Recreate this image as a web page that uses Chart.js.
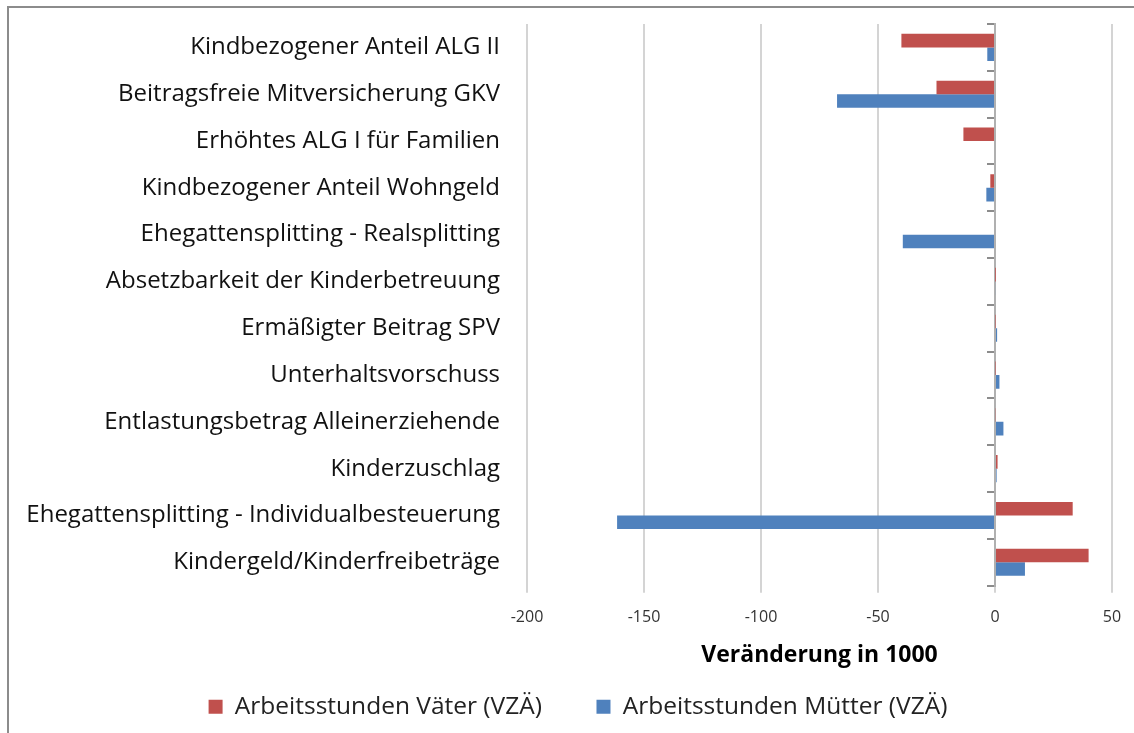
<!DOCTYPE html>
<html>
<head>
<meta charset="utf-8">
<script src="https://cdn.jsdelivr.net/npm/chart.js@4"></script>
<style>
  html, body { margin: 0; padding: 0; background: #fff; }
  #wrap { position: relative; width: 1134px; height: 733px; }
  #frame { position: absolute; left: 7px; top: 6px; right: 0; bottom: 0;
           border-left: 2px solid #8c8c8c; border-top: 2px solid #8c8c8c; }
</style>
</head>
<body>
<div id="wrap">
  <div id="frame"></div>
  <canvas id="myChart" width="1134" height="733"></canvas>
</div>
<script>
// Kategorien (von oben nach unten)
var categories = [
    'Kindbezogener Anteil ALG II',
    'Beitragsfreie Mitversicherung GKV',
    'Erhöhtes ALG I für Familien',
    'Kindbezogener Anteil Wohngeld',
    'Ehegattensplitting - Realsplitting',
    'Absetzbarkeit der Kinderbetreuung',
    'Ermäßigter Beitrag SPV',
    'Unterhaltsvorschuss',
    'Entlastungsbetrag Alleinerziehende',
    'Kinderzuschlag',
    'Ehegattensplitting - Individualbesteuerung',
    'Kindergeld/Kinderfreibeträge'
];

// Veränderung in 1000
var vaeter = [-40, -25, -13.5, -2, 0, 0.1, 0.2, 0.2, 0.3, 1.1, 33.2, 40];
var muetter = [-3.3, -67.5, 0, -3.7, -39.4, 0.4, 0.9, 1.9, 3.6, 0.7, -161.5, 12.8];

var seriesNames = ['Arbeitsstunden Väter (VZÄ)', 'Arbeitsstunden Mütter (VZÄ)'];
var xTicks = [-200, -150, -100, -50, 0, 50];

var FONT = '"Open Sans", Lato, sans-serif';

// Legende etwas nach rechts schieben (wie im Original)
var legendShift = {
    id: 'legendShift',
    afterLayout: function(chart) {
        if (chart.legend) chart.legend.left += 44;
    }
};

var ctx = document.getElementById('myChart').getContext('2d');
var myChart = new Chart(ctx, {
    type: 'bar',
    data: {
        labels: categories,
        datasets: [{
            label: seriesNames[0],
            data: vaeter,
            backgroundColor: '#C0504D',
            borderWidth: 0,
            categoryPercentage: 0.58,
            barPercentage: 1
        }, {
            label: seriesNames[1],
            data: muetter,
            backgroundColor: '#4F81BD',
            borderWidth: 0,
            categoryPercentage: 0.58,
            barPercentage: 1
        }]
    },
    plugins: [legendShift],
    options: {
        indexAxis: 'y',
        responsive: false,
        animation: false,
        layout: { padding: { top: 24, right: 22, bottom: 4, left: 0 } },
        plugins: {
            tooltip: { enabled: false },
            legend: {
                position: 'bottom',
                labels: {
                    boxWidth: 14,
                    boxHeight: 14,
                    padding: 10,
                    color: '#222',
                    font: { family: FONT, size: 24.5 },
                    generateLabels: function(chart) {
                        var items = Chart.defaults.plugins.legend.labels.generateLabels(chart);
                        // etwas mehr Abstand zwischen den beiden Einträgen
                        items[0].text = items[0].text + '       ';
                        return items;
                    }
                }
            }
        },
        scales: {
            x: {
                min: -200,
                max: 50,
                afterBuildTicks: function(scale) {
                    scale.ticks = xTicks.map(v => ({ value: v }));
                },
                afterFit: function(scale) {
                    scale.paddingLeft = 0;
                    scale.paddingRight = 0;
                },
                grid: {
                    color: '#d4d4d4',
                    lineWidth: 2,
                    tickLength: 7
                },
                border: { display: false },
                ticks: {
                    color: '#333',
                    padding: 15,
                    font: { family: FONT, size: 16 }
                },
                title: {
                    display: true,
                    text: 'Veränderung in 1000',
                    color: '#000',
                    padding: { top: 0, bottom: 15 },
                    font: { family: FONT, size: 23, weight: 'bold' }
                }
            },
            y: {
                afterFit: function(scale) {
                    scale.width = 527;
                    scale.paddingTop = 0;
                    scale.paddingBottom = 0;
                },
                grid: { display: false, drawTicks: false },
                border: { display: false },
                ticks: {
                    color: '#111',
                    padding: 27,
                    font: { family: FONT, size: 24 }
                }
            },
            y2: {
                type: 'category',
                axis: 'y',
                labels: categories,
                offset: true,
                position: { x: 0 },
                grid: {
                    drawOnChartArea: false,
                    offset: true,
                    tickLength: 7,
                    color: '#8c8c8c',
                    lineWidth: 2
                },
                border: { display: true, color: '#b0b0b0', width: 2 },
                ticks: { display: false }
            }
        }
    }
});
</script>
</body>
</html>
